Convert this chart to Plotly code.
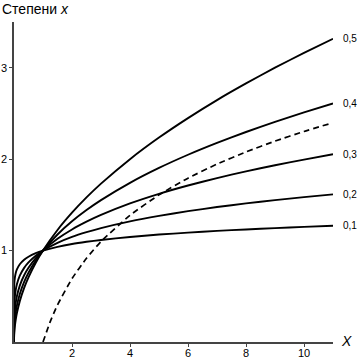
import plotly.graph_objects as go

x_pow = [0, 0.002, 0.01, 0.03, 0.06, 0.1, 0.2, 0.35, 0.5, 0.75, 1, 1.5, 2, 2.5, 3, 4, 5, 6, 7, 8, 9, 10, 11]
p01 = [0, 0.537, 0.631, 0.704, 0.755, 0.794, 0.851, 0.900, 0.933, 0.972, 1.0, 1.041, 1.072, 1.096, 1.116, 1.149, 1.175, 1.196, 1.215, 1.231, 1.246, 1.259, 1.271]
p02 = [0, 0.288, 0.398, 0.496, 0.570, 0.631, 0.725, 0.811, 0.871, 0.944, 1.0, 1.084, 1.149, 1.201, 1.246, 1.320, 1.380, 1.431, 1.476, 1.516, 1.552, 1.585, 1.615]
p03 = [0, 0.155, 0.251, 0.349, 0.430, 0.501, 0.617, 0.730, 0.812, 0.917, 1.0, 1.129, 1.231, 1.316, 1.390, 1.516, 1.621, 1.712, 1.793, 1.866, 1.933, 1.995, 2.053]
p04 = [0, 0.083, 0.158, 0.246, 0.325, 0.398, 0.525, 0.657, 0.758, 0.891, 1.0, 1.176, 1.320, 1.443, 1.552, 1.741, 1.904, 2.048, 2.178, 2.297, 2.408, 2.512, 2.609]
p05 = [0, 0.045, 0.100, 0.173, 0.245, 0.316, 0.447, 0.592, 0.707, 0.866, 1.0, 1.225, 1.414, 1.581, 1.732, 2.000, 2.236, 2.449, 2.646, 2.828, 3.000, 3.162, 3.317]
series = [("0,1", p01), ("0,2", p02), ("0,3", p03), ("0,4", p04), ("0,5", p05)]

x_log = [1, 1.25, 1.5, 2, 2.5, 3, 4, 5, 6, 7, 8, 9, 10, 10.9]
y_log = [0, 0.223, 0.405, 0.693, 0.916, 1.099, 1.386, 1.609, 1.792, 1.946, 2.079, 2.197, 2.303, 2.389]

x_ticks = [2, 4, 6, 8, 10]
y_ticks = [1, 2, 3]

fig = go.Figure()
for name, ys in series:
    fig.add_trace(go.Scatter(x=x_pow, y=ys, mode="lines",
                             line=dict(color="black", width=1.9, shape="spline", smoothing=0.5),
                             showlegend=False, hoverinfo="skip"))
    fig.add_annotation(x=x_pow[-1], y=ys[-1], text=name, showarrow=False,
                       xanchor="left", yanchor="middle", xshift=8,
                       font=dict(family="Liberation Sans", size=10, color="black"))

fig.add_trace(go.Scatter(x=x_log, y=y_log, mode="lines",
                         line=dict(color="black", width=1.7, dash="6px,4px", shape="spline", smoothing=0.5),
                         showlegend=False, hoverinfo="skip"))

fig.add_annotation(x=0, y=1, xref="paper", yref="paper", text="Степени <i>x</i>",
                   showarrow=False, xanchor="left", yanchor="bottom", xshift=-14, yshift=3,
                   font=dict(family="Liberation Sans", size=14, color="black"))
fig.add_annotation(x=1, y=0, xref="paper", yref="paper", text="<i>X</i>",
                   showarrow=False, xanchor="left", yanchor="middle", xshift=6, yshift=1,
                   font=dict(family="Liberation Sans", size=14, color="black"))

fig.update_layout(
    width=360, height=360,
    margin=dict(l=14, r=27, t=22, b=18),
    plot_bgcolor="white", paper_bgcolor="white",
    xaxis=dict(range=[0, 11], tickvals=x_ticks, ticktext=[str(v) for v in x_ticks],
               automargin=False, ticklabelstandoff=-3,
               showgrid=False, zeroline=False, showline=True, linecolor="#444", linewidth=1.5,
               ticks="outside", ticklen=3, tickcolor="#444",
               tickfont=dict(family="Liberation Sans", size=11, color="black")),
    yaxis=dict(range=[0, 3.5], tickvals=y_ticks, ticktext=[str(v) for v in y_ticks],
               automargin=False,
               showgrid=False, zeroline=False, showline=True, linecolor="#444", linewidth=1.5,
               ticks="outside", ticklen=3, tickcolor="#444",
               tickfont=dict(family="Liberation Sans", size=11, color="black")),
)

fig.write_html("out.html", config={"displayModeBar": False},
               post_script="document.body.style.margin='0px';document.body.style.padding='0px';")
